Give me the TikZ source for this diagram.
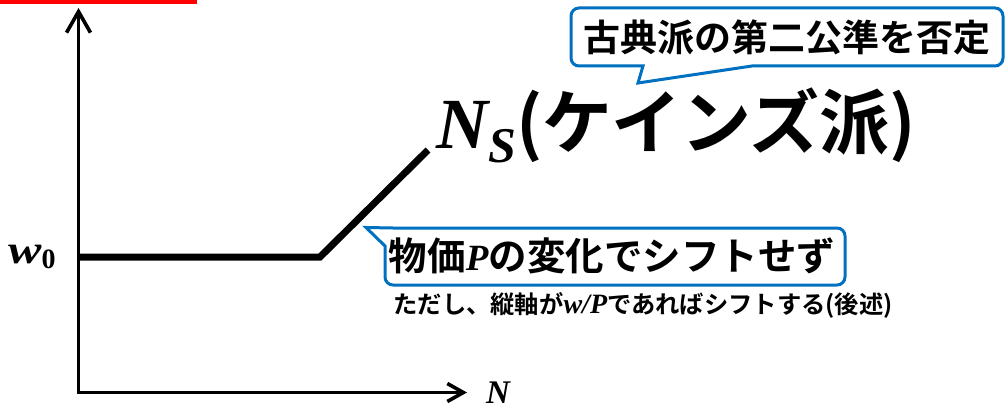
\documentclass[tikz,border=0pt]{standalone}
\usepackage{fontspec}
\usepackage{graphicx}
\setmainfont{Noto Sans CJK JP}[BoldFont={* Bold}]
\newfontfamily\mi{Liberation Serif}
\usetikzlibrary{arrows.meta}
\definecolor{cblue}{HTML}{0070C0}
\definecolor{cred}{HTML}{FF0000}
\tikzset{
  axis/.style={line width=3.6pt},
  curve/.style={line width=7pt},
  callout/.style={draw=cblue,line width=3pt,fill=white,line join=miter},
  lbl/.style={inner sep=0pt},
}
\newcommand{\fs}[1]{\fontsize{#1}{#1}\selectfont}
\newcommand{\mv}[1]{{\mi\bfseries\itshape #1}}
\begin{document}
\begin{tikzpicture}[x=1pt,y=-1pt]
\useasboundingbox (0,0) rectangle (1006,412);
\fill[cred] (0,0) rectangle (197,3.6);
% axes
\coordinate (O) at (78.5,392.5);
\coordinate (ytip) at (78.5,8);
\coordinate (xtip) at (467,392.5);
\draw[axis,{Straight Barb[length=21pt,width=24pt]}-{Straight Barb[length=16pt,width=18pt]}] (ytip) -- (O) -- (xtip);
% supply curve
\coordinate (s0) at (78.5,257);
\coordinate (s1) at (320,257);
\coordinate (s2) at (428,150);
\draw[curve] (s0) -- (s1) -- (s2);
% callout 1
\draw[callout] (579,8) -- (995,8) arc[start angle=-90,end angle=0,radius=8]
  -- (1003,58) arc[start angle=0,end angle=90,radius=8]
  -- (752,66) -- (638,83) -- (643,66) -- (579,66)
  arc[start angle=90,end angle=180,radius=8]
  -- (571,16) arc[start angle=180,end angle=270,radius=8] -- cycle;
\node[lbl] (t1) at (787,37) {\bfseries\fs{37}古典派の第二公準を否定};
% callout 2
\draw[callout] (393,228) -- (837,228) arc[start angle=-90,end angle=0,radius=8]
  -- (845,277) arc[start angle=0,end angle=90,radius=8]
  -- (393,285) arc[start angle=90,end angle=180,radius=8]
  -- (385,246) -- (366,227.5) -- cycle;
\node[lbl] (t2) at (612,256) {\bfseries\fs{38.5}物価{\fs{37}\mv{P}}の変化でシフトせず};
\node[lbl] (t3) at (643,305) {\bfseries\fs{24.3}ただし、縦軸が{\fs{28}\mv{w/P}}であればシフトする(後述)};
% labels
\node[lbl,anchor=base west] (ns) at (436,148) {\fs{72}\mv{N}\raisebox{-14pt}{\fs{50}\mv{S}}\bfseries\fs{70}(ケインズ派)};
\node[lbl,anchor=base west] (w0) at (8,263) {\fs{40}\mv{\scalebox{1.25}[1]{w}}\raisebox{-5pt}{\fs{28}\mi\bfseries 0}};
\node[lbl,anchor=base west] (Nlab) at (486,403) {\fs{33}\mv{N}};
\end{tikzpicture}
\end{document}
